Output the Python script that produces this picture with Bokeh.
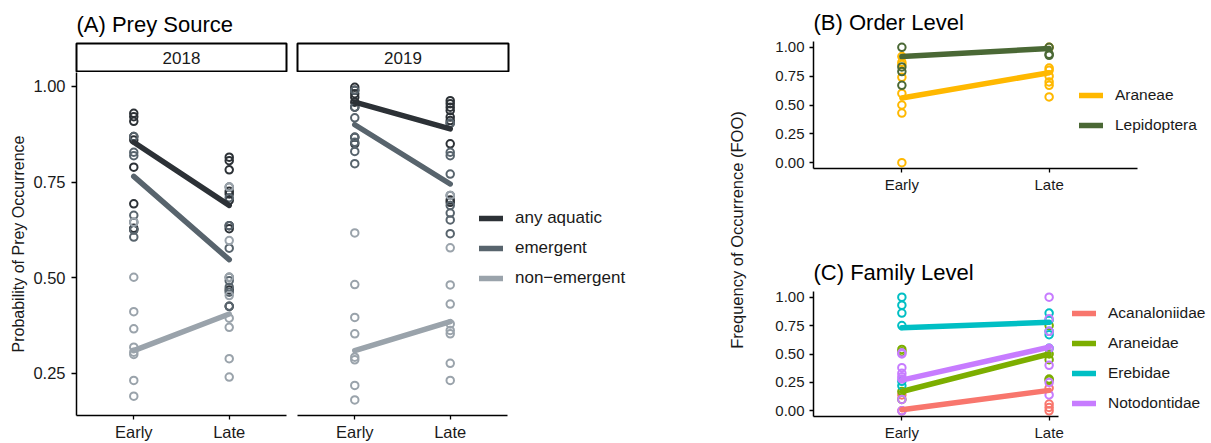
from bokeh.plotting import figure
from bokeh.models import Range1d, FixedTicker, Legend, LegendItem, Label
from bokeh.layouts import row, column
from bokeh.embed import file_html
from bokeh.resources import INLINE

FONT = "Liberation Sans"
TXT = "#1a1a1a"

# ---------------- data ----------------
periods = ["Early", "Late"]
years = ["2018", "2019"]
groups_A = ["any aquatic", "emergent", "non\u2212emergent"]
colors_A = ["#2c3136", "#58646d", "#9aa3ab"]

# Panel A: fitted probabilities (Early, Late)
fit_2018_any = [0.854, 0.689]
fit_2018_emergent = [0.765, 0.547]
fit_2018_nonemergent = [0.309, 0.405]
fit_2019_any = [0.959, 0.889]
fit_2019_emergent = [0.900, 0.745]
fit_2019_nonemergent = [0.309, 0.385]

# Panel A: observed values
obs_2018_any_early = [0.930, 0.921, 0.909, 0.869, 0.860, 0.789, 0.693, 0.629, 0.625]
obs_2018_any_late = [0.815, 0.806, 0.782, 0.726, 0.719, 0.702, 0.636, 0.628, 0.468, 0.425]
obs_2018_emergent_early = [0.869, 0.828, 0.819, 0.663, 0.645, 0.625, 0.606]
obs_2018_emergent_late = [0.737, 0.709, 0.636, 0.577, 0.501, 0.492, 0.475, 0.462, 0.425]
obs_2018_nonemergent_early = [0.645, 0.501, 0.411, 0.366, 0.318, 0.305, 0.299, 0.231, 0.190]
obs_2018_nonemergent_late = [0.737, 0.597, 0.501, 0.453, 0.394, 0.370, 0.288, 0.240]
obs_2019_any_early = [0.998, 0.990, 0.981, 0.972, 0.959, 0.946, 0.867, 0.850]
obs_2019_any_late = [0.963, 0.955, 0.946, 0.937, 0.920, 0.911, 0.904, 0.850, 0.703, 0.697]
obs_2019_emergent_early = [0.990, 0.946, 0.918, 0.867, 0.854, 0.830, 0.798]
obs_2019_emergent_late = [0.904, 0.828, 0.819, 0.771, 0.715, 0.689, 0.669, 0.651, 0.615]
obs_2019_nonemergent_early = [0.617, 0.482, 0.396, 0.353, 0.292, 0.285, 0.218, 0.180]
obs_2019_nonemergent_late = [0.715, 0.578, 0.481, 0.431, 0.379, 0.362, 0.353, 0.276, 0.231]

# Panel B: order level
taxa_B = ["Araneae", "Lepidoptera"]
colors_B = ["#FFB800", "#4a6835"]
fit_araneae = [0.56, 0.78]
fit_lepidoptera = [0.92, 0.99]
obs_araneae_early = [0.92, 0.87, 0.85, 0.74, 0.60, 0.50, 0.43, 0.00]
obs_araneae_late = [1.00, 0.82, 0.80, 0.75, 0.70, 0.67, 0.57]
obs_lepidoptera_early = [1.00, 0.83, 0.79, 0.67]
obs_lepidoptera_late = [1.00, 0.94, 0.93]

# Panel C: family level
taxa_C = ["Acanaloniidae", "Araneidae", "Erebidae", "Notodontidae"]
colors_C = ["#F8766D", "#7CAE00", "#00BFC4", "#C77CFF"]
fit_acanaloniidae = [0.01, 0.18]
fit_araneidae = [0.17, 0.50]
fit_erebidae = [0.73, 0.78]
fit_notodontidae = [0.27, 0.56]
obs_acanaloniidae_early = [0.14, 0.00]
obs_acanaloniidae_late = [0.20, 0.06, 0.03, 0.00]
obs_araneidae_early = [0.54, 0.52, 0.17, 0.10]
obs_araneidae_late = [0.75, 0.50, 0.45, 0.28, 0.27]
obs_erebidae_early = [1.00, 0.93, 0.86, 0.75, 0.26, 0.22]
obs_erebidae_late = [0.86, 0.80, 0.70, 0.67, 0.55]
obs_notodontidae_early = [0.51, 0.50, 0.38, 0.33, 0.30, 0.28, 0.10, 0.00]
obs_notodontidae_late = [1.00, 0.81, 0.70, 0.55, 0.40, 0.25, 0.14]

ticks_A = [0.25, 0.50, 0.75, 1.00]
ticks_BC = [0.00, 0.25, 0.50, 0.75, 1.00]

# ---------------- helpers ----------------
pos = {p: i + 1 for i, p in enumerate(periods)}
LW = 5.5


def base_fig(width, height, x_range, y_range, ml, mr, mt, mb, title=None):
    kw = dict(width=width, height=height, x_range=x_range, y_range=y_range,
              toolbar_location=None, output_backend="svg",
              min_border_left=ml, min_border_right=mr,
              min_border_top=mt, min_border_bottom=mb)
    if title is not None:
        kw["title"] = title
    p = figure(**kw)
    p.outline_line_color = None
    p.xgrid.visible = False
    p.ygrid.visible = False
    p.background_fill_color = "white"
    p.border_fill_color = "white"
    if title is not None:
        p.title.text_font = FONT
        p.title.text_font_size = "22px"
        p.title.text_font_style = "normal"
        p.title.text_color = "black"
        p.title.align = "left"
        p.title.standoff = 13
    return p


def style_axes(p, tick_size, yticks, xbounds, show_y=True, y_out=5, y_standoff=5,
               x_out=4, x_standoff=3):
    p.xaxis.ticker = FixedTicker(ticks=[pos[q] for q in periods])
    p.xaxis.major_label_overrides = {pos[q]: q for q in periods}
    p.xaxis.bounds = xbounds
    p.yaxis.ticker = FixedTicker(ticks=yticks)
    p.yaxis.major_label_overrides = {t: "%.2f" % t for t in yticks}
    for ax in p.axis:
        ax.axis_line_color = "black"
        ax.axis_line_width = 1.5
        ax.major_tick_line_color = "black"
        ax.major_tick_line_width = 1.3
        ax.major_tick_in = 0
        ax.minor_tick_out = 0
        ax.minor_tick_in = 0
        ax.major_label_text_font = FONT
        ax.major_label_text_font_size = tick_size
        ax.major_label_text_color = TXT
        ax.axis_label_text_font = FONT
        ax.axis_label_text_font_style = "normal"
        ax.axis_label_text_color = TXT
    p.xaxis.major_tick_out = x_out
    p.xaxis.major_label_standoff = x_standoff
    p.yaxis.major_tick_out = y_out
    p.yaxis.major_label_standoff = y_standoff
    if not show_y:
        p.yaxis.visible = False


def draw_obs(p, early, late, color):
    xs = [pos["Early"]] * len(early) + [pos["Late"]] * len(late)
    p.scatter(xs, early + late, marker="circle", size=7.5, fill_color=None,
              line_color=color, line_width=2)


def draw_fit(p, fit, color):
    return p.line([pos[q] for q in periods], fit, line_color=color, line_width=LW,
                  line_cap="round")


def make_legend(labels, renderers, loc, size):
    lg = Legend(items=[LegendItem(label=l, renderers=[r]) for l, r in zip(labels, renderers)],
                location=loc)
    lg.label_text_font = FONT
    lg.label_text_font_size = size
    lg.label_text_color = TXT
    lg.glyph_width = 24
    lg.glyph_height = 20
    lg.label_height = 20
    lg.label_standoff = 12
    lg.spacing = 10
    lg.padding = 0
    lg.margin = 0
    lg.border_line_color = None
    lg.background_fill_alpha = 0
    return lg


# ---------------- Panel A ----------------
obs_A = {
    "2018": [(obs_2018_any_early, obs_2018_any_late),
             (obs_2018_emergent_early, obs_2018_emergent_late),
             (obs_2018_nonemergent_early, obs_2018_nonemergent_late)],
    "2019": [(obs_2019_any_early, obs_2019_any_late),
             (obs_2019_emergent_early, obs_2019_emergent_late),
             (obs_2019_nonemergent_early, obs_2019_nonemergent_late)],
}
fit_A = {
    "2018": [fit_2018_any, fit_2018_emergent, fit_2018_nonemergent],
    "2019": [fit_2019_any, fit_2019_emergent, fit_2019_nonemergent],
}

yA = (0.1394, 1.0366)
xA_pad = (0.4, 2.6)
pxA = 210 / 2.2  # pixels per category step in a facet

strip_figs = []
panel_figs = []
for k, yr in enumerate(years):
    if k == 0:
        s = base_fig(291, 72, Range1d(0, 1), Range1d(0, 1), 76, 5, 43, 1, title="(A) Prey Source")
        p = base_fig(291, 371, Range1d(*xA_pad), Range1d(*yA), 76, 5, 0, 28)
    else:
        s = base_fig(409, 72, Range1d(0, 1), Range1d(0, 1), 6, 192, 43, 1)
        p = base_fig(409, 371, Range1d(xA_pad[0], xA_pad[0] + 403 / pxA), Range1d(*yA), 6, 0, 0, 28)
    s.outline_line_color = "black"
    s.outline_line_width = 2
    s.xaxis.visible = False
    s.yaxis.visible = False
    s.add_layout(Label(x=0.5, y=0.5, text=yr, text_align="center", text_baseline="middle",
                       text_font=FONT, text_font_size="17px", text_color=TXT))
    strip_figs.append(s)

    style_axes(p, "16.5px", ticks_A, xA_pad, show_y=(k == 0), y_out=5, y_standoff=6,
               x_out=4, x_standoff=3)
    if k == 0:
        p.yaxis.axis_label = "Probability of Prey Occurrence"
        p.yaxis.axis_label_text_font_size = "16px"
        p.yaxis.axis_label_standoff = 3
    for (early, late), col in zip(obs_A[yr], colors_A):
        draw_obs(p, early, late, col)
    rs = [draw_fit(p, f, c) for f, c in zip(fit_A[yr], colors_A)]
    if k == 1:
        p.add_layout(make_legend(groups_A, rs, (182, 127), "17px"))
    panel_figs.append(p)

left_block = column(row(*strip_figs), row(*panel_figs))

# ---------------- shared y label ----------------
lab_fig = figure(width=60, height=443, x_range=Range1d(0, 1), y_range=Range1d(0, 1),
                 toolbar_location=None, output_backend="svg", title_location="left",
                 title="Frequency of Occurrence (FOO)",
                 min_border_left=50, min_border_right=0, min_border_top=41, min_border_bottom=25)
lab_fig.outline_line_color = None
lab_fig.xgrid.visible = False
lab_fig.ygrid.visible = False
lab_fig.xaxis.visible = False
lab_fig.yaxis.visible = False
lab_fig.title.align = "center"
lab_fig.title.text_font = FONT
lab_fig.title.text_font_size = "16.5px"
lab_fig.title.text_font_style = "normal"
lab_fig.title.text_color = TXT
lab_fig.title.standoff = 10

# ---------------- Panel B ----------------
pxBC = 324 / 2.2
xBC_end = 0.4 + 398 / pxBC
pB = base_fig(451, 249, Range1d(0.4, xBC_end), Range1d(-0.05, 1.05), 53, 0, 41, 81,
              title="(B) Order Level")
style_axes(pB, "15px", ticks_BC, (0.4, 2.6), y_out=4, y_standoff=5, x_out=4, x_standoff=3)
obs_B = [(obs_araneae_early, obs_araneae_late), (obs_lepidoptera_early, obs_lepidoptera_late)]
fit_B = [fit_araneae, fit_lepidoptera]
for (early, late), col in zip(obs_B, colors_B):
    draw_obs(pB, early, late, col)
rsB = [draw_fit(pB, f, c) for f, c in zip(fit_B, colors_B)]
pB.add_layout(make_legend(taxa_B, rsB, (266, 33), "15.5px"))

# ---------------- Panel C ----------------
pC = base_fig(451, 194, Range1d(0.4, xBC_end), Range1d(-0.05, 1.05), 53, 0, 42, 26,
              title="(C) Family Level")
style_axes(pC, "15px", ticks_BC, (0.4, 2.061), y_out=4, y_standoff=5, x_out=4, x_standoff=3)
obs_C = [(obs_acanaloniidae_early, obs_acanaloniidae_late),
         (obs_araneidae_early, obs_araneidae_late),
         (obs_erebidae_early, obs_erebidae_late),
         (obs_notodontidae_early, obs_notodontidae_late)]
fit_C = [fit_acanaloniidae, fit_araneidae, fit_erebidae, fit_notodontidae]
for (early, late), col in zip(obs_C, colors_C):
    draw_obs(pC, early, late, col)
rsC = [draw_fit(pC, f, c) for f, c in zip(fit_C, colors_C)]
pC.add_layout(make_legend(taxa_C, rsC, (259, 3), "15.5px"))

right_block = column(pB, pC)

layout = row(left_block, lab_fig, right_block)

open("out.html", "w").write(file_html(layout, INLINE))
